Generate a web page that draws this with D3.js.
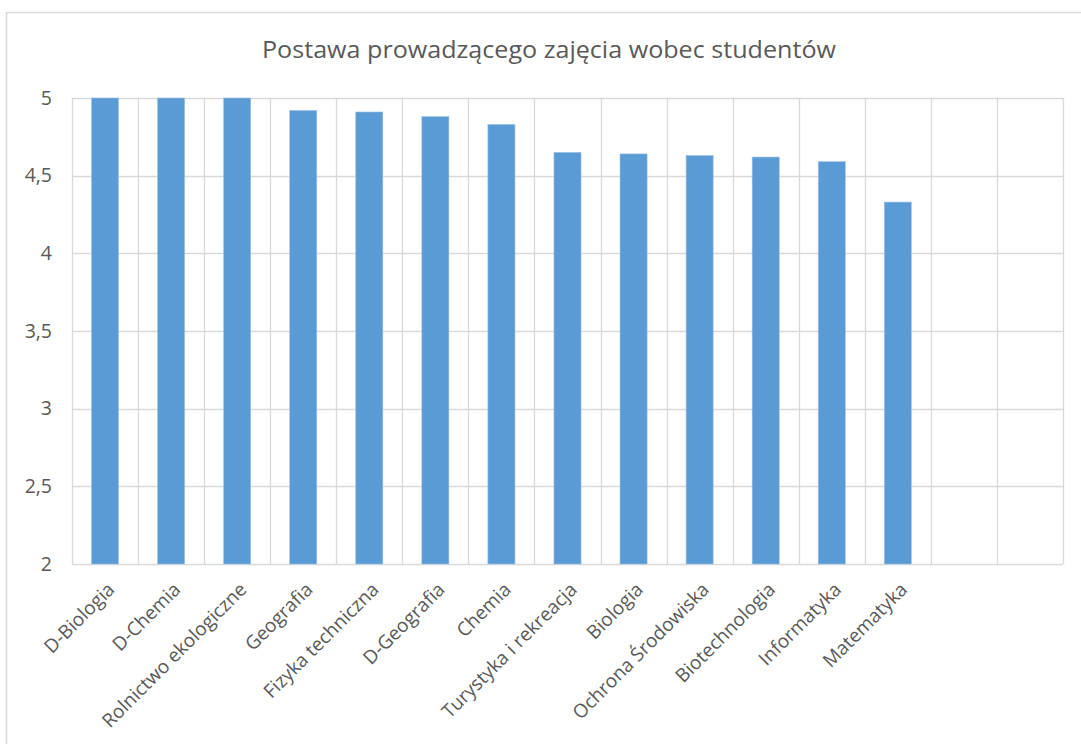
<!DOCTYPE html>
<html>
<head>
<meta charset="utf-8">
<script src="https://cdn.jsdelivr.net/npm/d3@7"></script>
<style>
  html, body { margin: 0; padding: 0; background: #fff; }
  svg { display: block; }
</style>
</head>
<body>
<svg id="chart" width="1081" height="744"></svg>
<script>
const title = "Postawa prowadzącego zajęcia wobec studentów";
const categories = ["D-Biologia", "D-Chemia", "Rolnictwo ekologiczne", "Geografia", "Fizyka techniczna",
  "D-Geografia", "Chemia", "Turystyka i rekreacja", "Biologia", "Ochrona Środowiska",
  "Biotechnologia", "Informatyka", "Matematyka", "", " "];
const values = [5, 5, 5, 4.92, 4.91, 4.88, 4.83, 4.65, 4.64, 4.63, 4.62, 4.59, 4.33, null, null];
const yTicks = [2, 2.5, 3, 3.5, 4, 4.5, 5];

const svg = d3.select("#chart");
const W = 1081, H = 744;
const m = { left: 72, right: 1063, top: 98, bottom: 564 };

// outer chart border
svg.append("rect").attr("x", 6.5).attr("y", 12.5).attr("width", W + 10).attr("height", H + 10)
  .attr("fill", "#fff").attr("stroke", "#d9d9d9").attr("stroke-width", 1.5);

svg.append("text").attr("x", 549).attr("y", 58).attr("text-anchor", "middle")
  .attr("font-family", "'Open Sans', sans-serif").attr("font-size", 23).attr("fill", "#595959")
  .attr("textLength", 574).attr("lengthAdjust", "spacingAndGlyphs")
  .text(title);

const x = d3.scaleBand().domain(categories).range([m.left, m.right]).paddingInner(0).paddingOuter(0);
const y = d3.scaleLinear().domain([2, 5]).range([m.bottom, m.top]);

const grid = svg.append("g");
grid.selectAll("line.h").data(yTicks).join("line")
  .attr("x1", m.left).attr("x2", m.right)
  .attr("y1", d => Math.round(y(d)) + 0.5).attr("y2", d => Math.round(y(d)) + 0.5)
  .attr("stroke", "#d9d9d9").attr("stroke-width", 1.3);
const bounds = categories.map(c => x(c)).concat([m.right]);
grid.selectAll("line.v").data(bounds).join("line")
  .attr("x1", d => Math.round(d) + 0.5).attr("x2", d => Math.round(d) + 0.5)
  .attr("y1", m.top).attr("y2", m.bottom)
  .attr("stroke", "#d9d9d9").attr("stroke-width", 1.3);

const bw = x.bandwidth() * 0.41;
svg.append("g").selectAll("rect").data(values.map((v, i) => ({ c: categories[i], v })).filter(d => d.v != null))
  .join("rect")
  .attr("x", d => x(d.c) + x.bandwidth() / 2 - bw / 2)
  .attr("width", bw)
  .attr("y", d => y(d.v))
  .attr("height", d => y(2) - y(d.v))
  .attr("fill", "#5b9bd5")
  .attr("stroke", "#9dc3e6").attr("stroke-width", 0.6);

// y axis labels
const yAxis = d3.axisLeft(y).tickValues(yTicks).tickSize(0).tickPadding(20)
  .tickFormat(d => String(d).replace(".", ","));
const ya = svg.append("g").attr("transform", `translate(${m.left},0)`).call(yAxis);
ya.select(".domain").remove();
ya.selectAll("text").attr("font-family", "'Open Sans', sans-serif").attr("font-size", 19.5).attr("fill", "#595959");

// x axis labels
const xAxis = d3.axisBottom(x).tickSize(0).tickPadding(0);
const xa = svg.append("g").attr("transform", `translate(0,${m.bottom})`).call(xAxis);
xa.select(".domain").remove();
xa.selectAll("text")
  .attr("font-family", "'Open Sans', sans-serif").attr("font-size", 19).attr("fill", "#595959")
  .attr("text-anchor", "end")
  .attr("dy", "0.35em")
  .attr("transform", "translate(6,22) rotate(-45)");
</script>
</body>
</html>
